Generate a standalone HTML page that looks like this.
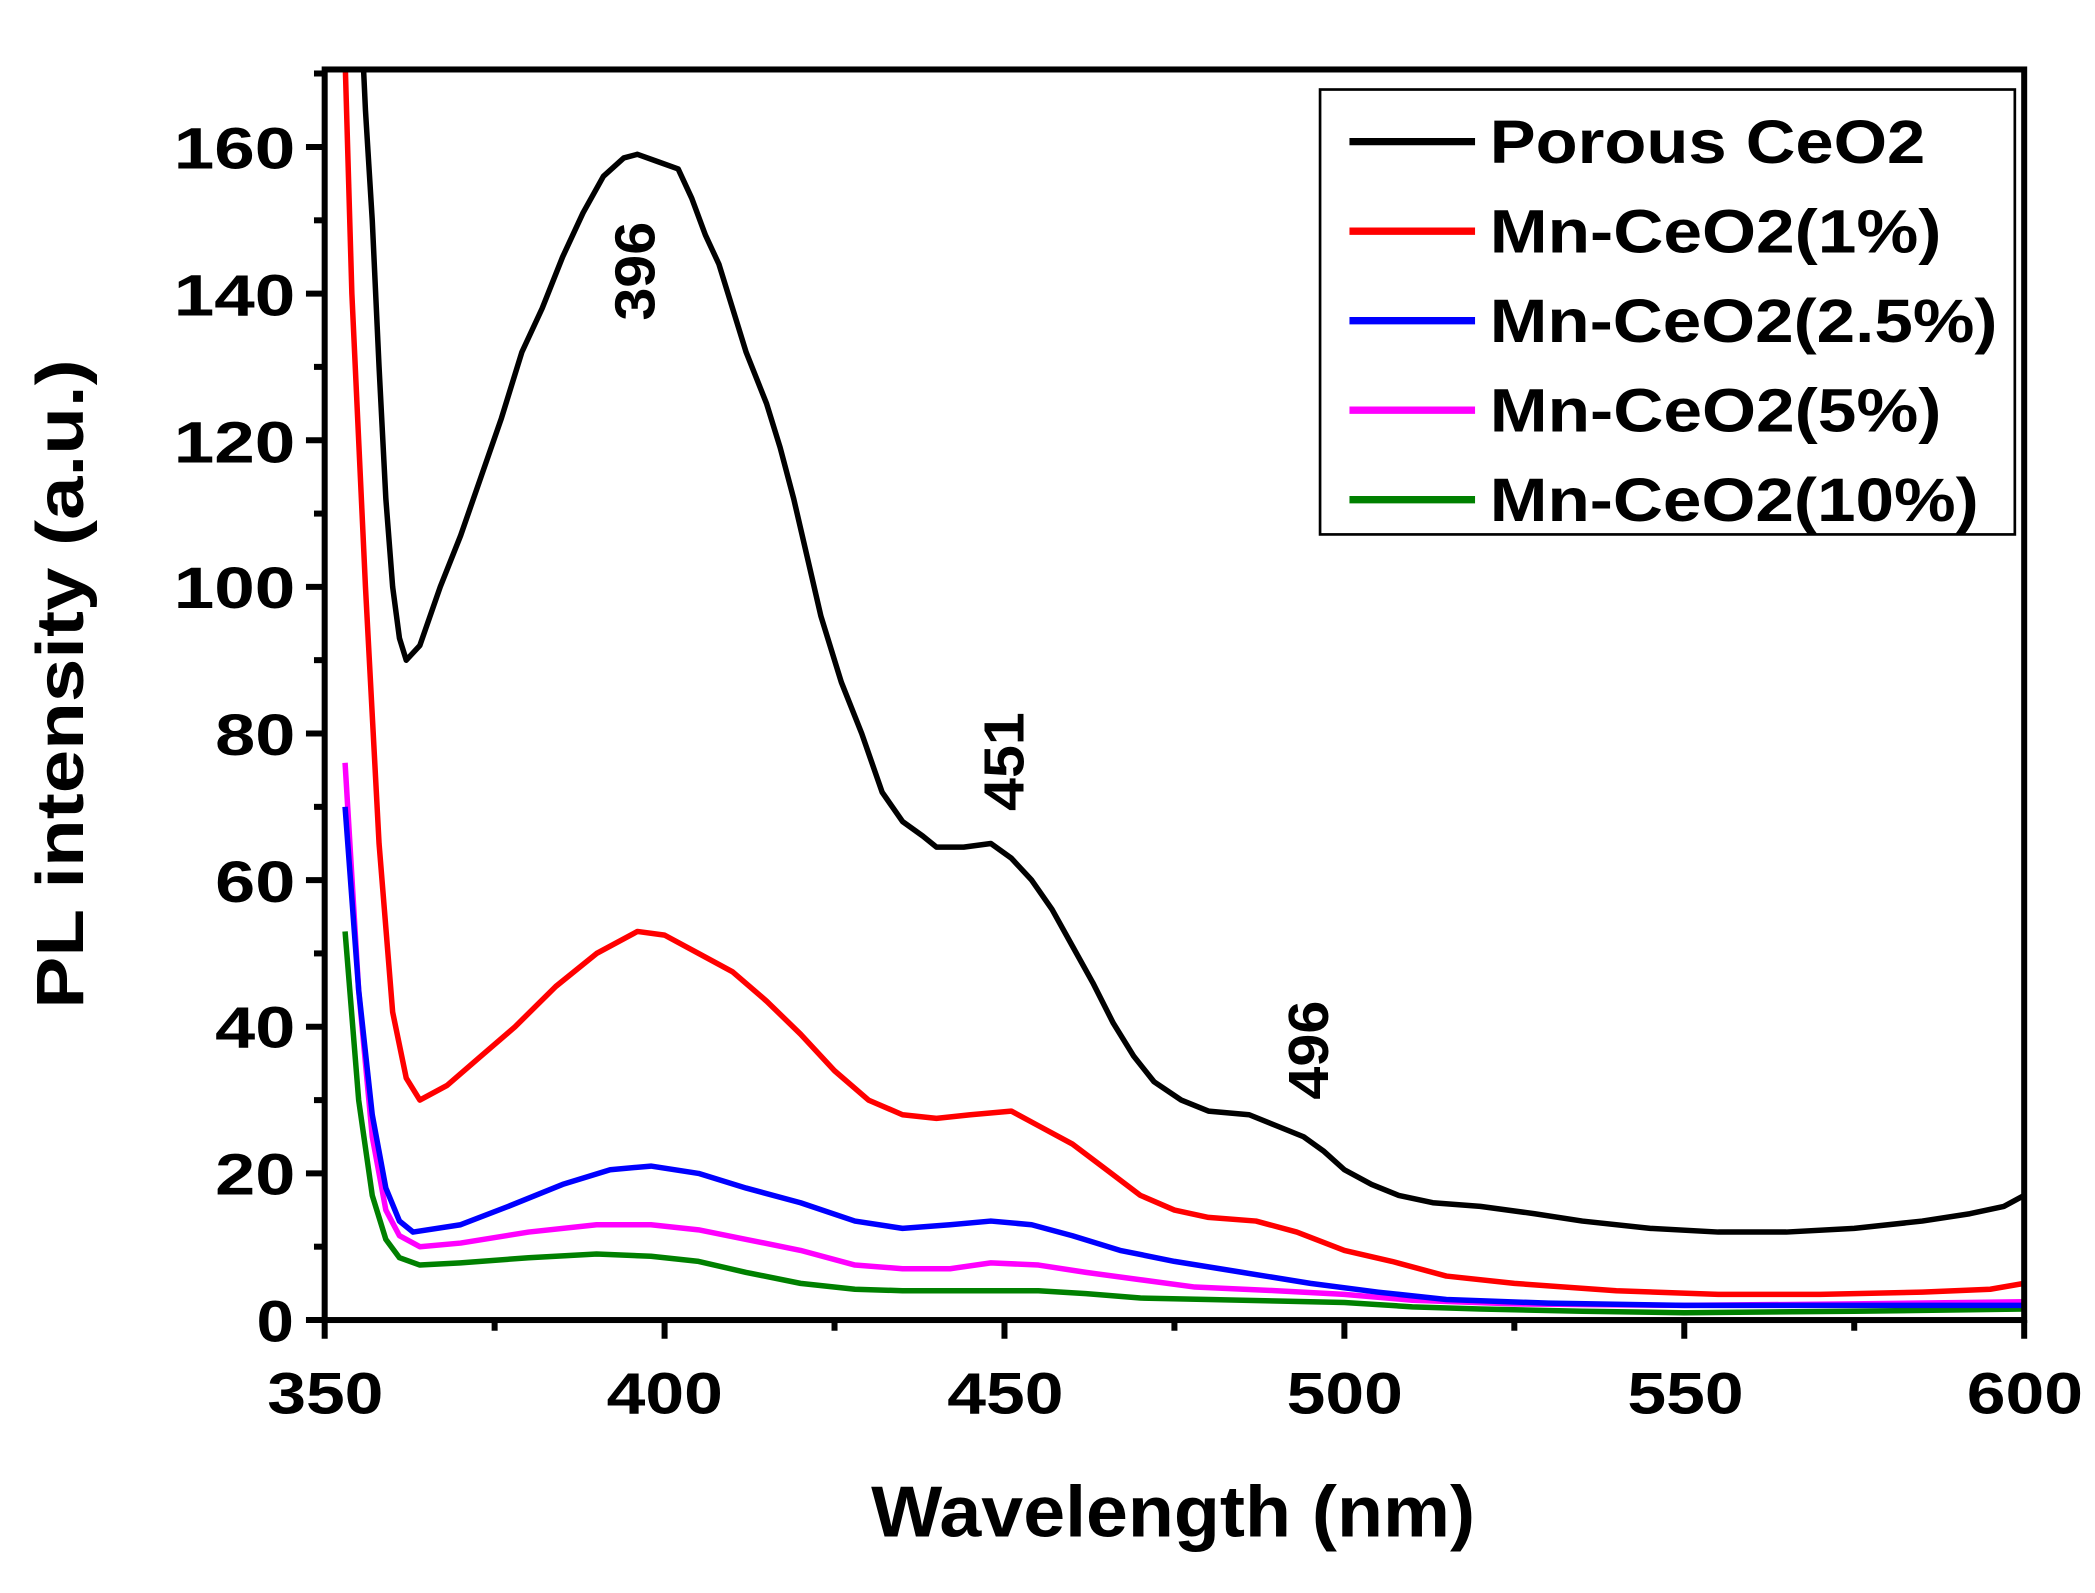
<!DOCTYPE html>
<html><head><meta charset="utf-8"><style>html,body{margin:0;padding:0;background:#fff}svg{display:block}</style></head>
<body>
<svg width="2095" height="1593" viewBox="0 0 1568 1192.3" preserveAspectRatio="none" xmlns="http://www.w3.org/2000/svg" font-family="Liberation Sans, Arial, sans-serif" font-weight="bold">
<defs><clipPath id="c"><rect x="243" y="52" width="1272" height="936"/></clipPath></defs>
<g clip-path="url(#c)" fill="none" stroke-linejoin="round">
<g transform="translate(243,988) scale(5.088,-5.4875) translate(-350,0)">
<polyline vector-effect="non-scaling-stroke" stroke="#008000" stroke-width="5.5" points="353,53 355,30 357,17 359,11 361,8.5 364,7.5 370,7.8 380,8.5 390,9 398,8.7 405,8 412,6.5 420,5 428,4.2 435,4 445,4 455,4 462,3.6 470,3 480,2.8 490,2.6 500,2.4 510,1.8 520,1.5 535,1.2 550,1 575,1.2 600,1.5"/>
<polyline vector-effect="non-scaling-stroke" stroke="#ff00ff" stroke-width="5.5" points="353,76 355,45 357,25 359,15 361,11.5 364,10 370,10.5 380,12 390,13 398,13 405,12.3 412,11 420,9.5 428,7.5 435,7 442,7 448,7.8 455,7.5 462,6.5 470,5.5 478,4.5 490,4 500,3.5 510,2.7 525,2.2 550,2 575,2.2 600,2.5"/>
<polyline vector-effect="non-scaling-stroke" stroke="#0000ff" stroke-width="5.5" points="353,70 355,45 357,28 359,18 361,13.5 363,12 370,13 377,15.5 385,18.5 392,20.5 398,21 405,20 412,18 420,16 428,13.5 435,12.5 442,13 448,13.5 454,13 460,11.5 467,9.5 475,8 485,6.5 495,5 505,3.8 515,2.8 530,2.3 550,2 575,2 600,2"/>
<polyline vector-effect="non-scaling-stroke" stroke="#ff0000" stroke-width="5.5" points="353,172 354,140 356,100 358,65 360,42 362,33 364,30 368,32 373,36 378,40 384,45.5 390,50 396,53 400,52.5 405,50 410,47.5 415,43.5 420,39 425,34 430,30 435,28 440,27.5 445,28 451,28.5 455,26.5 460,24 465,20.5 470,17 475,15 480,14 487,13.5 493,12 500,9.5 507,8 515,6 525,5 540,4 555,3.5 570,3.5 585,3.8 595,4.2 600,5"/>
<polyline vector-effect="non-scaling-stroke" stroke="#000" stroke-width="5.5" points="355.5,175 356,165 357,150 358,130 359,112 360,100 361,93 362,90 364,92 367,100 370,107 373,115 376,123 379,132 382,138 385,145 388,151 391,156 394,158.5 396,159 399,158 402,157 404,153 406,148 407,146 408,144 410,138 412,132 415,125 417,119 419,112 421,104 423,96 426,87 429,80 432,72 435,68 438,66 440,64.5 444,64.5 448,65 451,63 454,60 457,56 460,51 463,46 466,40.5 469,36 472,32.5 476,30 480,28.5 486,28 490,26.5 494,25 497,23 500,20.5 504,18.5 508,17 513,16 520,15.5 528,14.5 535,13.5 545,12.5 555,12 565,12 575,12.5 585,13.5 592,14.5 597,15.5 600,17"/>
</g></g>
<!-- axes -->
<rect x="243" y="52" width="1272" height="936" fill="none" stroke="#000" stroke-width="4.5"/>
<g stroke="#000" stroke-width="4.5">
<line x1="229" y1="988" x2="243" y2="988"/><line x1="229" y1="878.25" x2="243" y2="878.25"/><line x1="229" y1="768.5" x2="243" y2="768.5"/><line x1="229" y1="658.75" x2="243" y2="658.75"/><line x1="229" y1="549" x2="243" y2="549"/><line x1="229" y1="439.25" x2="243" y2="439.25"/><line x1="229" y1="329.5" x2="243" y2="329.5"/><line x1="229" y1="219.75" x2="243" y2="219.75"/><line x1="229" y1="110" x2="243" y2="110"/>
<line x1="235" y1="933.1" x2="243" y2="933.1"/><line x1="235" y1="823.4" x2="243" y2="823.4"/><line x1="235" y1="713.6" x2="243" y2="713.6"/><line x1="235" y1="603.9" x2="243" y2="603.9"/><line x1="235" y1="494.1" x2="243" y2="494.1"/><line x1="235" y1="384.4" x2="243" y2="384.4"/><line x1="235" y1="274.6" x2="243" y2="274.6"/><line x1="235" y1="164.9" x2="243" y2="164.9"/><line x1="235" y1="55" x2="243" y2="55"/>
<line x1="243" y1="988" x2="243" y2="1002"/><line x1="497.4" y1="988" x2="497.4" y2="1002"/><line x1="751.8" y1="988" x2="751.8" y2="1002"/><line x1="1006.2" y1="988" x2="1006.2" y2="1002"/><line x1="1260.6" y1="988" x2="1260.6" y2="1002"/><line x1="1515" y1="988" x2="1515" y2="1002"/>
<line x1="370.2" y1="988" x2="370.2" y2="996"/><line x1="624.6" y1="988" x2="624.6" y2="996"/><line x1="879" y1="988" x2="879" y2="996"/><line x1="1133.4" y1="988" x2="1133.4" y2="996"/><line x1="1387.8" y1="988" x2="1387.8" y2="996"/>
</g>
<g font-size="44" lengthAdjust="spacingAndGlyphs">
<text x="192" y="1004" textLength="28" lengthAdjust="spacingAndGlyphs">0</text>
<text x="161" y="894" textLength="60" lengthAdjust="spacingAndGlyphs">20</text>
<text x="161" y="784" textLength="60" lengthAdjust="spacingAndGlyphs">40</text>
<text x="161" y="675" textLength="60" lengthAdjust="spacingAndGlyphs">60</text>
<text x="161" y="565" textLength="60" lengthAdjust="spacingAndGlyphs">80</text>
<text x="130" y="455" textLength="91" lengthAdjust="spacingAndGlyphs">100</text>
<text x="130" y="346" textLength="91" lengthAdjust="spacingAndGlyphs">120</text>
<text x="130" y="236" textLength="91" lengthAdjust="spacingAndGlyphs">140</text>
<text x="130" y="126" textLength="91" lengthAdjust="spacingAndGlyphs">160</text>
</g>
<g font-size="44">
<text x="200" y="1058" textLength="87" lengthAdjust="spacingAndGlyphs">350</text>
<text x="454" y="1058" textLength="87" lengthAdjust="spacingAndGlyphs">400</text>
<text x="709" y="1058" textLength="87" lengthAdjust="spacingAndGlyphs">450</text>
<text x="963" y="1058" textLength="87" lengthAdjust="spacingAndGlyphs">500</text>
<text x="1218" y="1058" textLength="87" lengthAdjust="spacingAndGlyphs">550</text>
<text x="1472" y="1058" textLength="87" lengthAdjust="spacingAndGlyphs">600</text>
</g>
<text x="652" y="1150" font-size="54" textLength="452" lengthAdjust="spacingAndGlyphs">Wavelength (nm)</text>
<text transform="translate(62,755) rotate(-90)" font-size="50" textLength="486" lengthAdjust="spacingAndGlyphs">PL intensity (a.u.)</text>
<g font-size="42">
<text transform="translate(490,240) rotate(-90)" textLength="74" lengthAdjust="spacingAndGlyphs">396</text>
<text transform="translate(766,607) rotate(-90)" textLength="74" lengthAdjust="spacingAndGlyphs">451</text>
<text transform="translate(994,823) rotate(-90)" textLength="74" lengthAdjust="spacingAndGlyphs">496</text>
</g>
<!-- legend -->
<rect x="988" y="67" width="520" height="333" fill="#fff" stroke="#000" stroke-width="2"/>
<g stroke-width="5.5">
<line x1="1010" y1="106" x2="1104" y2="106" stroke="#000"/>
<line x1="1010" y1="173" x2="1104" y2="173" stroke="#ff0000"/>
<line x1="1010" y1="240" x2="1104" y2="240" stroke="#0000ff"/>
<line x1="1010" y1="307" x2="1104" y2="307" stroke="#ff00ff"/>
<line x1="1010" y1="374" x2="1104" y2="374" stroke="#008000"/>
</g>
<g font-size="46">
<text x="1115" y="122" textLength="326" lengthAdjust="spacingAndGlyphs">Porous CeO2</text>
<text x="1115" y="189" textLength="338" lengthAdjust="spacingAndGlyphs">Mn-CeO2(1%)</text>
<text x="1115" y="256" textLength="380" lengthAdjust="spacingAndGlyphs">Mn-CeO2(2.5%)</text>
<text x="1115" y="323" textLength="338" lengthAdjust="spacingAndGlyphs">Mn-CeO2(5%)</text>
<text x="1115" y="390" textLength="366" lengthAdjust="spacingAndGlyphs">Mn-CeO2(10%)</text>
</g>
</svg>
</body></html>
